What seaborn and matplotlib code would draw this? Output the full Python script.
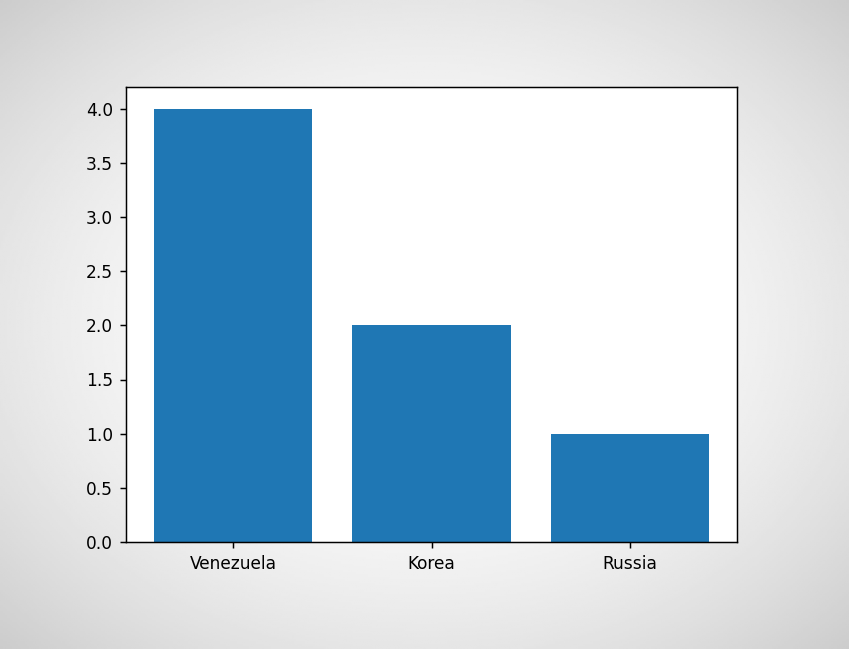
import numpy as np
import seaborn as sns
import matplotlib.pyplot as plt

countries = ["Venezuela", "Korea", "Russia"]
counts = [4, 2, 1]

dpi = 133
plt.rcParams["font.size"] = 9.2
fig = plt.figure(figsize=(849 / dpi, 649 / dpi), dpi=dpi)

# vignette-like grey background behind the axes
bg = fig.add_axes([0, 0, 1, 1], zorder=-10)
yy, xx = np.mgrid[-1:1:300j, -1:1:400j]
shade = 1 - 0.1 * (xx ** 2 + yy ** 2)
bg.imshow(shade, cmap="gray", vmin=0, vmax=1, aspect="auto", extent=[0, 1, 0, 1])
bg.axis("off")

ax = fig.add_axes([126 / 849, 107 / 649, 611 / 849, 455 / 649])
sns.barplot(x=countries, y=counts, color="#1f77b4", saturation=1, width=0.8,
            linewidth=0, ax=ax)
ax.set_xlim(-0.54, 2.54)
ax.set_ylim(0, 4.2)
ax.set_facecolor("white")
ax.set_xlabel("")
ax.set_ylabel("")

fig.savefig("out.png", dpi=dpi)
